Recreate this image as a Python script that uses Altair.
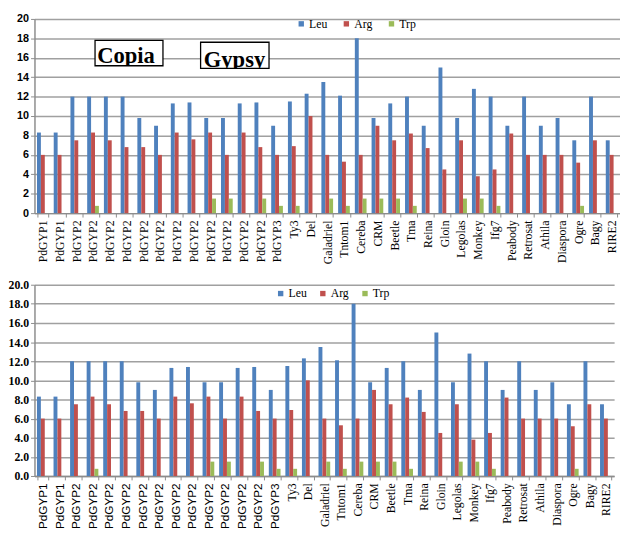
import altair as alt
import pandas as pd

names = ["PdGYP1", "PdGYP1", "PdGYP2", "PdGYP2", "PdGYP2", "PdGYP2", "PdGYP2",
         "PdGYP2", "PdGYP2", "PdGYP2", "PdGYP2", "PdGYP2", "PdGYP2", "PdGYP2",
         "PdGYP3", "Ty3", "Del", "Galadriel", "Tntom1", "Cereba", "CRM", "Beetle",
         "Tma", "Reina", "Gloin", "Legolas", "Monkey", "Ifg7", "Peabody",
         "Retrosat", "Athila", "Diaspora", "Ogre", "Bagy", "RIRE2"]
leu = [8.3, 8.3, 12.0, 12.0, 12.0, 12.0, 9.8, 9.0, 11.3, 11.4, 9.8, 9.8, 11.3, 11.4,
       9.0, 11.5, 12.3, 13.5, 12.1, 18.0, 9.8, 11.3, 12.0, 9.0, 15.0, 9.8, 12.8, 12.0,
       9.0, 12.0, 9.0, 9.8, 7.5, 12.0, 7.5]
arg = [6.0, 6.0, 7.5, 8.3, 7.5, 6.8, 6.8, 6.0, 8.3, 7.6, 8.3, 6.0, 8.3, 6.8,
       6.0, 6.9, 10.0, 6.0, 5.3, 6.0, 9.0, 7.5, 8.2, 6.7, 4.5, 7.5, 3.8, 4.5,
       8.2, 6.0, 6.0, 6.0, 5.2, 7.5, 6.0]
trp = [0, 0, 0, 0.75, 0, 0, 0, 0, 0, 0, 1.5, 1.5, 0, 1.5,
       0.75, 0.75, 0, 1.5, 0.75, 1.5, 1.5, 1.5, 0.75, 0, 0, 1.5, 1.5, 0.75,
       0, 0, 0, 0, 0.75, 0, 0]
series = ["Leu", "Arg", "Trp"]
colors = ["#4F81BD", "#C0504D", "#9BBB59"]
y_ticks = list(range(0, 21, 2))

# annotation boxes (in category units / data units)
ann_labels = ["Copia", "Gypsy"]
ann_x0 = [3.62, 9.93]
ann_x1 = [7.68, 14.02]
ann_y0 = [15.18, 14.92]
ann_y1 = [17.8, 17.6]
ann_tx = [3.75, 10.12]
ann_ty = [15.5, 15.08]

rows = []
for i, n in enumerate(names):
    for s, vals in zip(series, [leu, arg, trp]):
        rows.append({"idx": i, "name": n, "series": s, "value": vals[i]})
df = pd.DataFrame(rows)

ann = pd.DataFrame({"label": ann_labels, "x0": ann_x0, "x1": ann_x1,
                    "y0": ann_y0, "y1": ann_y1, "tx": ann_tx, "ty": ann_ty})
ann["c0"] = ann["y0"] - 0.6

label_expr = "[" + ",".join(f"'{n}'" for n in names) + "][datum.value]"
n_cat = len(names)
GRID = "#A0A0A0"
AX = "#8C8C8C"
y_scale = alt.Scale(domain=[0, 20], nice=False)


def bar_layer(width, height, y_axis, x_axis, legend):
    return alt.Chart(df).mark_bar().encode(
        x=alt.X("idx:O", title=None, axis=x_axis,
                scale=alt.Scale(paddingInner=0.3, paddingOuter=0.15)),
        xOffset=alt.XOffset("series:N", sort=series,
                            scale=alt.Scale(domain=series, paddingInner=0, paddingOuter=0)),
        y=alt.Y("value:Q", title=None, axis=y_axis, scale=y_scale),
        color=alt.Color("series:N", scale=alt.Scale(domain=series, range=colors),
                        legend=legend),
    ).properties(width=width, height=height)


def x_axis(font_cond):
    return alt.Axis(labelExpr=label_expr, labelAngle=-90, labelFont=font_cond,
                    labelFontSize=12, labelColor="black", labelOverlap=False,
                    tickBand="extent", tickColor=AX, tickSize=4, tickWidth=1,
                    domainColor=AX, domainWidth=1.5, labelPadding=3, grid=False)


def y_axis(fmt, font, weight, size):
    return alt.Axis(values=y_ticks, format=fmt, labelFont=font, labelFontWeight=weight,
                    labelFontSize=size, labelColor="black", gridColor=GRID, gridWidth=1.5,
                    domainColor=AX, domainWidth=1.5, tickColor=AX, tickSize=4,
                    labelPadding=2, labelOverlap=False)


def legend(lx, ly, colpad):
    return alt.Legend(orient="none", legendX=lx, legendY=ly, direction="horizontal",
                      title=None, symbolType="square", symbolSize=30,
                      symbolStrokeWidth=0, labelFont="Liberation Serif",
                      labelFontSize=12, labelColor="black", columnPadding=colpad,
                      labelOffset=2, padding=0)


top_y_axis = y_axis("d", "Liberation Sans", "bold", 11)
top_bars = bar_layer(597, 198, top_y_axis, x_axis("Liberation Serif"),
                     legend(266, -1, 13))

ax_scale = alt.Scale(domain=[0, n_cat], nice=False, zero=False)
abase = alt.Chart(ann)
box_fill = abase.mark_rect(fill="white").encode(
    x=alt.X("x0:Q", scale=ax_scale, axis=None), x2="x1:Q",
    y=alt.Y("y0:Q", scale=y_scale, title=None, axis=top_y_axis), y2="y1:Q")
box_text = abase.mark_text(align="left", baseline="alphabetic", font="Liberation Serif",
                           fontSize=23, fontWeight="bold", color="black").encode(
    x=alt.X("tx:Q", scale=ax_scale, axis=None),
    y=alt.Y("ty:Q", scale=y_scale, title=None, axis=top_y_axis), text="label:N")
box_cover = abase.mark_rect(fill="white").encode(
    x=alt.X("x0:Q", scale=ax_scale, axis=None), x2="x1:Q",
    y=alt.Y("c0:Q", scale=y_scale, title=None, axis=top_y_axis), y2="y0:Q")
box_stroke = abase.mark_rect(fillOpacity=0, stroke="black", strokeWidth=1.3).encode(
    x=alt.X("x0:Q", scale=ax_scale, axis=None), x2="x1:Q",
    y=alt.Y("y0:Q", scale=y_scale, title=None, axis=top_y_axis), y2="y1:Q")

top = alt.layer(top_bars, box_fill, box_text, box_cover, box_stroke).resolve_scale(
    x="independent")

bottom_font = {"condition": {"test": "datum.value < 15", "value": "Liberation Sans"},
               "value": "Liberation Serif"}
bottom = bar_layer(591, 195,
                   y_axis(".1f", "Liberation Serif", "bold", 12),
                   x_axis(bottom_font),
                   legend(245, 3, 10))

chart = alt.concat(top, bottom, columns=1, spacing=15).properties(
    align="none",
    padding={"left": 0, "top": 0, "right": 0, "bottom": 0}
).resolve_legend(color="independent").configure_view(strokeWidth=0)

chart.save("out.html", embed_options={"renderer": "svg", "actions": False})
